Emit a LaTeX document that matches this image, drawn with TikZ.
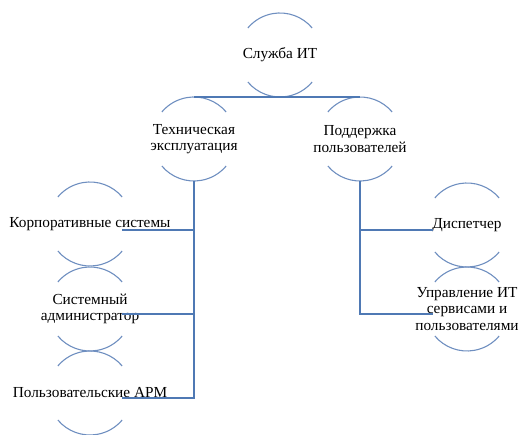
\documentclass[tikz,border=0pt]{standalone}
\usepackage{fontspec}
\setmainfont{Liberation Serif}
\definecolor{arcblue}{HTML}{6F8FC0}
\definecolor{connblue}{HTML}{4F79B4}
\begin{document}
\begin{tikzpicture}[x=1pt,y=1pt,
 ring/.style={circle, minimum size=84pt, inner sep=0pt, outer sep=0pt},
 txt/.style={align=center, font=\rmfamily\fontsize{15.3}{16.5}\selectfont, inner sep=0pt, text=black},
 arcline/.style={draw=arcblue, line width=1.1pt},
 conn/.style={draw=connblue, line width=1.4pt}]
\useasboundingbox (0,0) rectangle (522,435);
% rings
\node[ring] (top)  at (280,380) {};
\node[ring] (tech) at (194,296) {};
\node[ring] (supp) at (360,296) {};
\node[ring] (korp) at (90,211) {};
\node[ring] (sys)  at (90,126) {};
\node[ring] (arm)  at (90,42) {};
\node[ring] (disp) at (467,210) {};
\node[ring] (upr)  at (467,126) {};
% texts
\node[txt] (topT)  at (top)  {Служба ИТ};
\node[txt] (techT) at (tech) {Техническая\\эксплуатация};
\node[txt] (suppT) at (supp) {Поддержка\\пользователей};
\node[txt] (korpT) at (korp) {Корпоративные системы};
\node[txt] (sysT)  at (sys)  {Системный\\администратор};
\node[txt] (armT)  at (arm)  {Пользовательские АРМ};
\node[txt] (dispT) at (disp) {Диспетчер};
\node[txt] (uprT)  at (upr)  {Управление ИТ\\сервисами и\\пользователями};
% arcs
\foreach \n in {top,tech,supp,korp,sys,arm,disp,upr}{
  \draw[arcline] (\n.40) arc (40:140:42pt);
  \draw[arcline] (\n.220) arc (220:320:42pt);
}
% connectors
\draw[conn] (tech.north) -- (supp.north);
\draw[conn] (tech.south) |- ([shift={(32pt,-5pt)}]arm.center);
\draw[conn] (tech.south |- korp.center) ++(0,-6pt) -- ([shift={(32pt,-6pt)}]korp.center);
\draw[conn] (tech.south |- sys.center) ++(0,-5pt) -- ([shift={(32pt,-5pt)}]sys.center);
\draw[conn] (supp.south) |- ([shift={(-34pt,-5pt)}]upr.center);
\draw[conn] (supp.south |- disp.center) ++(0,-5pt) -- ([shift={(-34pt,-5pt)}]disp.center);
\end{tikzpicture}
\end{document}
